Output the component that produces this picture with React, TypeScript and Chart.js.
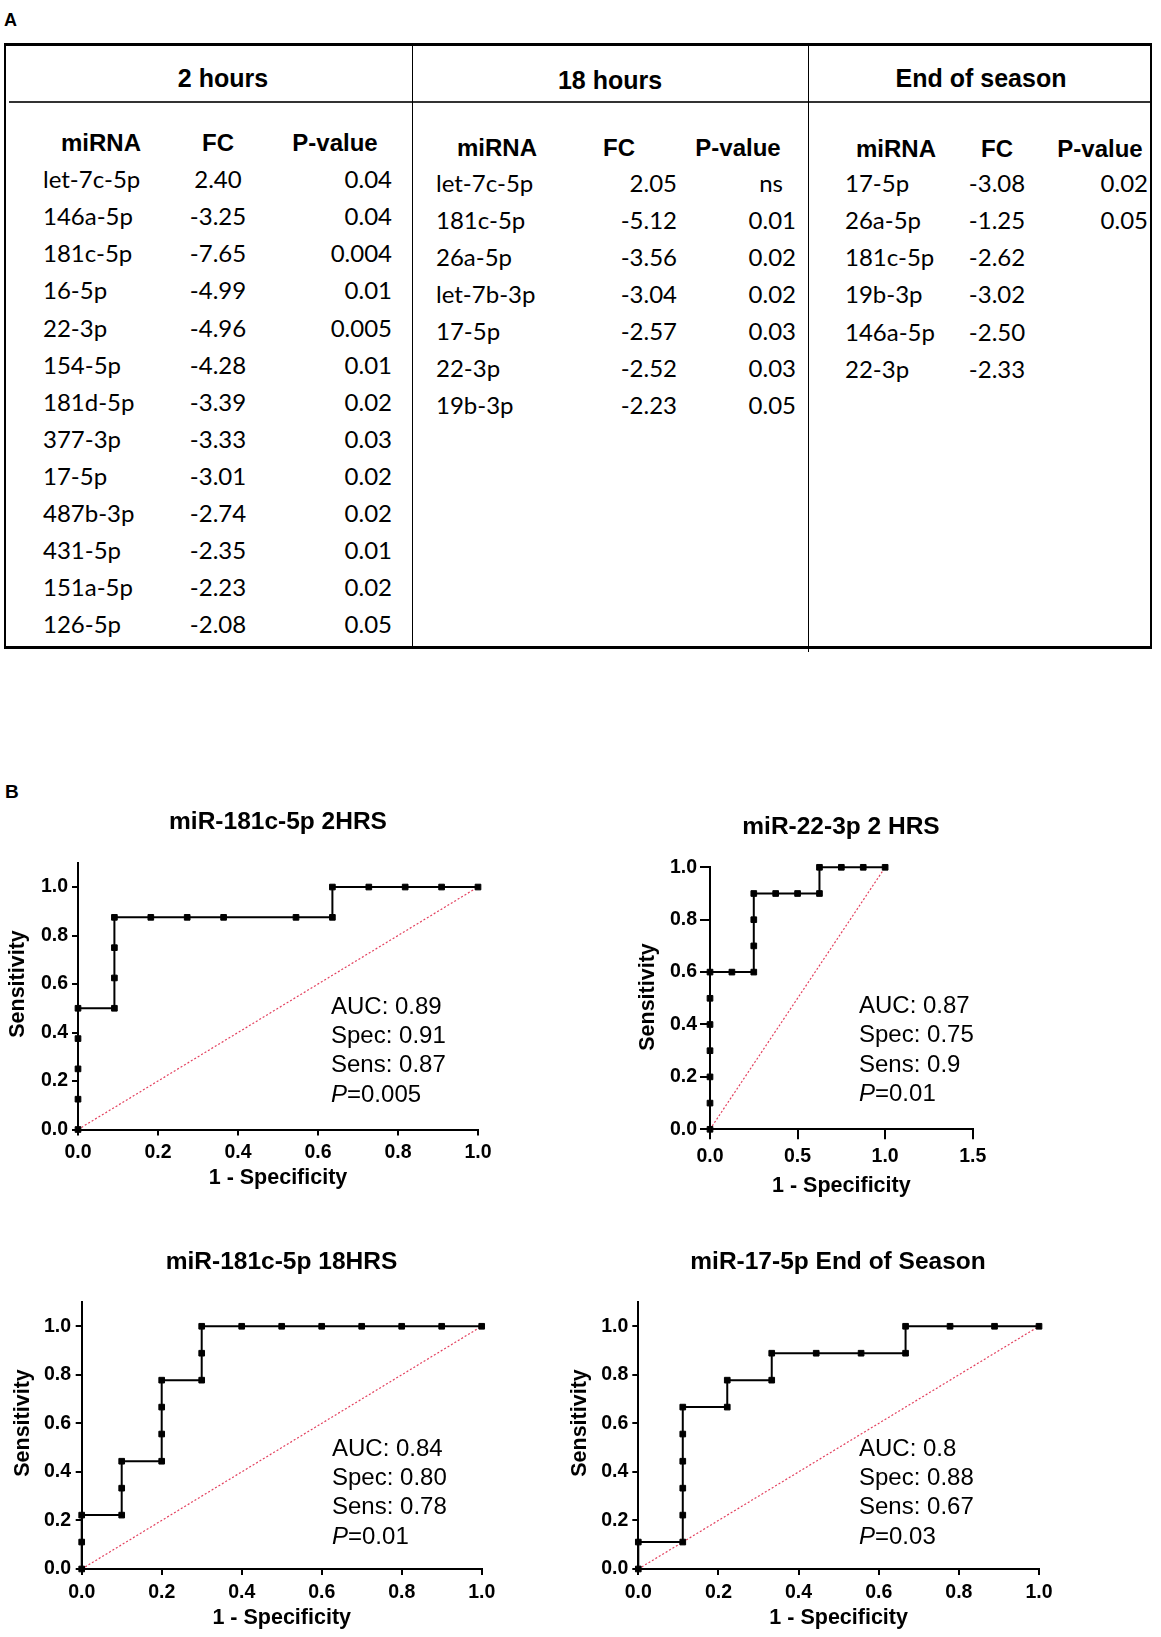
import React, { useEffect, useRef } from "react";
import { Chart, registerables } from "chart.js";

Chart.register(...registerables);

const ARIAL = '"Liberation Sans", Arial, Helvetica, sans-serif';
const BODY = 'Lato, "Open Sans", "Noto Sans", sans-serif';

// ---------------- Panel A: table data ----------------
const sectionTitles = ["2 hours", "18 hours", "End of season"];
const columnHeaders = ["miRNA", "FC", "P-value"];

const mirna2h = ["let-7c-5p", "146a-5p", "181c-5p", "16-5p", "22-3p", "154-5p", "181d-5p", "377-3p", "17-5p", "487b-3p", "431-5p", "151a-5p", "126-5p"];
const fc2h = [2.40, -3.25, -7.65, -4.99, -4.96, -4.28, -3.39, -3.33, -3.01, -2.74, -2.35, -2.23, -2.08];
const p2h = ["0.04", "0.04", "0.004", "0.01", "0.005", "0.01", "0.02", "0.03", "0.02", "0.02", "0.01", "0.02", "0.05"];

const mirna18h = ["let-7c-5p", "181c-5p", "26a-5p", "let-7b-3p", "17-5p", "22-3p", "19b-3p"];
const fc18h = [2.05, -5.12, -3.56, -3.04, -2.57, -2.52, -2.23];
const p18h = ["ns", "0.01", "0.02", "0.02", "0.03", "0.03", "0.05"];

const mirnaEos = ["17-5p", "26a-5p", "181c-5p", "19b-3p", "146a-5p", "22-3p"];
const fcEos = [-3.08, -1.25, -2.62, -3.02, -2.50, -2.33];
const pEos = ["0.02", "0.05", "", "", "", ""];

// ---------------- Panel B: ROC data ----------------
const xTicksUnit = [0, 0.2, 0.4, 0.6, 0.8, 1.0];
const xTicksWide = [0, 0.5, 1.0, 1.5];
const yTicks = [0, 0.2, 0.4, 0.6, 0.8, 1.0];
const chanceX = [0, 1];
const chanceY = [0, 1];

const roc181c2hX = [0, 0, 0, 0, 0, 0.091, 0.091, 0.091, 0.091, 0.182, 0.273, 0.364, 0.545, 0.636, 0.636, 0.727, 0.818, 0.909, 1.0];
const roc181c2hY = [0, 0.125, 0.25, 0.375, 0.5, 0.5, 0.625, 0.75, 0.875, 0.875, 0.875, 0.875, 0.875, 0.875, 1.0, 1.0, 1.0, 1.0, 1.0];
const stats181c2h = ["AUC: 0.89", "Spec: 0.91", "Sens: 0.87"];
const pval181c2h = "0.005";

const roc22_2hX = [0, 0, 0, 0, 0, 0, 0, 0.125, 0.25, 0.25, 0.25, 0.25, 0.375, 0.5, 0.625, 0.625, 0.75, 0.875, 1.0];
const roc22_2hY = [0, 0.1, 0.2, 0.3, 0.4, 0.5, 0.6, 0.6, 0.6, 0.7, 0.8, 0.9, 0.9, 0.9, 0.9, 1.0, 1.0, 1.0, 1.0];
const stats22_2h = ["AUC: 0.87", "Spec: 0.75", "Sens: 0.9"];
const pval22_2h = "0.01";

const roc181c18hX = [0, 0, 0, 0.1, 0.1, 0.1, 0.2, 0.2, 0.2, 0.2, 0.3, 0.3, 0.3, 0.4, 0.5, 0.6, 0.7, 0.8, 0.9, 1.0];
const roc181c18hY = [0, 0.111, 0.222, 0.222, 0.333, 0.444, 0.444, 0.556, 0.667, 0.778, 0.778, 0.889, 1.0, 1.0, 1.0, 1.0, 1.0, 1.0, 1.0, 1.0];
const stats181c18h = ["AUC: 0.84", "Spec: 0.80", "Sens: 0.78"];
const pval181c18h = "0.01";

const roc17EosX = [0, 0, 0.111, 0.111, 0.111, 0.111, 0.111, 0.111, 0.222, 0.222, 0.333, 0.333, 0.444, 0.556, 0.667, 0.667, 0.778, 0.889, 1.0];
const roc17EosY = [0, 0.111, 0.111, 0.222, 0.333, 0.444, 0.556, 0.667, 0.667, 0.778, 0.778, 0.889, 0.889, 0.889, 0.889, 1.0, 1.0, 1.0, 1.0];
const stats17Eos = ["AUC: 0.8", "Spec: 0.88", "Sens: 0.67"];
const pval17Eos = "0.03";

// ---------------- layout ----------------
const ROW_STEP = 37.06;
const sectionLayouts = [
  { names: mirna2h, fc: fc2h, p: p2h, titleX: 223, titleY: 78, headY: 143, headX: [101, 218, 335], rowY: 179.3, nameX: 43, fcX: 218, fcAlign: "center", pX: 392 },
  { names: mirna18h, fc: fc18h, p: p18h, titleX: 610, titleY: 80, headY: 148, headX: [497, 619, 738], rowY: 183, nameX: 436, fcX: 677, fcAlign: "right", pX: 796 },
  { names: mirnaEos, fc: fcEos, p: pEos, titleX: 981, titleY: 78, headY: 148.5, headX: [896, 997, 1100], rowY: 183.3, nameX: 845, fcX: 997, fcAlign: "center", pX: 1148 },
];

type Align = "left" | "center" | "right";

function Txt(props: { x: number; y: number; text: string; align?: Align; size: number; weight?: number | string; family: string }) {
  const { x, y, text, align = "left", size, weight = 400, family } = props;
  const tx = align === "left" ? "0" : align === "center" ? "-50%" : "-100%";
  return (
    <div
      style={{
        position: "absolute",
        left: x,
        top: y,
        transform: `translate(${tx}, -50%)`,
        whiteSpace: "nowrap",
        lineHeight: 1,
        fontSize: size,
        fontWeight: weight as any,
        fontFamily: family,
        color: "#000",
      }}
    >
      {text}
    </div>
  );
}

function Line(props: { x: number; y: number; w: number; h: number; color?: string }) {
  return <div style={{ position: "absolute", left: props.x, top: props.y, width: props.w, height: props.h, background: props.color || "#000" }} />;
}

const TITLE_SIZE = 24.5;
const AXIS_TITLE_SIZE = 21.5;
const TICK_SIZE = 19.5;
const STAT_SIZE = 24;

type Panel = {
  title: string; xs: number[]; ys: number[]; xMax: number; yMax: number; xTicks: number[];
  stats: string[]; pval: string;
  left: number; top: number; w: number; h: number;
  area: { left: number; right: number; top: number; bottom: number };
  titleY: number; yTitleX: number; yTitleY: number; xTitleY: number; tickLen: number; xTickPad: number; yTickPad: number;
  statX: number; statY: number; statDy: number;
};

const panels: Panel[] = [
  { title: "miR-181c-5p 2HRS", xs: roc181c2hX, ys: roc181c2hY, xMax: 1, yMax: 1.1, xTicks: xTicksUnit, stats: stats181c2h, pval: pval181c2h,
    left: 0, top: 780, w: 556, h: 415, area: { left: 78, right: 478, top: 82.8, bottom: 349.5 },
    titleY: 42, yTitleX: 18, yTitleY: 204, xTitleY: 398, tickLen: 6, xTickPad: 5, yTickPad: 4, statX: 331, statY: 227, statDy: 29.4 },
  { title: "miR-22-3p 2 HRS", xs: roc22_2hX, ys: roc22_2hY, xMax: 1.5, yMax: 1.0, xTicks: xTicksWide, stats: stats22_2h, pval: pval22_2h,
    left: 600, top: 780, w: 482, h: 423, area: { left: 110, right: 372.7, top: 87.3, bottom: 349.3 },
    titleY: 47, yTitleX: 48, yTitleY: 217, xTitleY: 406, tickLen: 10, xTickPad: 5.3, yTickPad: 3, statX: 259, statY: 226, statDy: 29.6 },
  { title: "miR-181c-5p 18HRS", xs: roc181c18hX, ys: roc181c18hY, xMax: 1, yMax: 1.1, xTicks: xTicksUnit, stats: stats181c18h, pval: pval181c18h,
    left: 0, top: 1220, w: 563, h: 415, area: { left: 81.7, right: 481.7, top: 82, bottom: 349 },
    titleY: 42, yTitleX: 23, yTitleY: 203, xTitleY: 398, tickLen: 6, xTickPad: 5.6, yTickPad: 4.7, statX: 332, statY: 229, statDy: 29.4 },
  { title: "miR-17-5p End of Season", xs: roc17EosX, ys: roc17EosY, xMax: 1, yMax: 1.1, xTicks: xTicksUnit, stats: stats17Eos, pval: pval17Eos,
    left: 560, top: 1220, w: 556, h: 415, area: { left: 78.3, right: 479, top: 82, bottom: 349 },
    titleY: 42, yTitleX: 20, yTitleY: 203, xTitleY: 398, tickLen: 6, xTickPad: 5.6, yTickPad: 4, statX: 299, statY: 229, statDy: 29.4 },
];

function makeTextPlugin(p: Panel) {
  return {
    id: "rocText",
    afterDatasetsDraw(chart: any) {
      const ctx = chart.ctx as CanvasRenderingContext2D;
      ctx.save();
      ctx.fillStyle = "#000";
      ctx.textAlign = "left";
      ctx.textBaseline = "middle";
      ctx.font = `${STAT_SIZE}px ${ARIAL}`;
      p.stats.forEach((t, i) => ctx.fillText(t, p.statX, p.statY + i * p.statDy));
      const py = p.statY + p.stats.length * p.statDy;
      ctx.font = `italic ${STAT_SIZE}px ${ARIAL}`;
      ctx.fillText("P", p.statX, py);
      const w = ctx.measureText("P").width;
      ctx.font = `${STAT_SIZE}px ${ARIAL}`;
      ctx.fillText("=" + p.pval, p.statX + w, py);
      // y-axis title
      ctx.translate(p.yTitleX, p.yTitleY);
      ctx.rotate(-Math.PI / 2);
      ctx.textAlign = "center";
      ctx.font = `bold ${AXIS_TITLE_SIZE}px ${ARIAL}`;
      ctx.fillText("Sensitivity", 0, 0);
      ctx.restore();
    },
  };
}

function buildConfig(p: Panel): any {
  const tlh = TITLE_SIZE * 1.2;
  const alh = AXIS_TITLE_SIZE * 1.2;
  const tickFont = { family: ARIAL, size: TICK_SIZE, weight: "bold" };
  const axisTitleFont = { family: ARIAL, size: AXIS_TITLE_SIZE, weight: "bold" };
  return {
    type: "scatter",
    data: {
      datasets: [
        {
          data: p.xs.map((x, i) => ({ x, y: p.ys[i] })),
          showLine: true,
          borderColor: "#000",
          borderWidth: 2,
          pointStyle: "rect",
          pointRadius: 4,
          pointBackgroundColor: "#000",
          pointBorderColor: "#000",
          pointBorderWidth: 1,
          clip: false,
          order: 0,
        },
        {
          data: chanceX.map((x, i) => ({ x, y: chanceY[i] })),
          showLine: true,
          borderColor: "#e3405e",
          borderWidth: 1.2,
          borderDash: [2, 2],
          pointRadius: 0,
          clip: false,
          order: 1,
        },
      ],
    },
    options: {
      animation: false,
      responsive: false,
      maintainAspectRatio: false,
      devicePixelRatio: 1,
      events: [],
      layout: { padding: 0 },
      plugins: {
        legend: { display: false },
        tooltip: { enabled: false },
        title: {
          display: true,
          text: p.title,
          color: "#000",
          font: { family: ARIAL, size: TITLE_SIZE, weight: "bold" },
          padding: { top: p.titleY - tlh / 2, bottom: p.area.top - p.titleY - tlh / 2 },
        },
      },
      scales: {
        x: {
          type: "linear",
          position: "bottom",
          min: 0,
          max: p.xMax,
          afterBuildTicks: (s: any) => { s.ticks = p.xTicks.map((v) => ({ value: v })); },
          afterFit: (s: any) => { s.height = p.h - p.area.bottom; },
          border: { display: true, color: "#000", width: 2 },
          grid: { display: true, drawOnChartArea: false, drawTicks: true, tickLength: p.tickLen, color: "#000", lineWidth: 2 },
          ticks: { color: "#000", padding: p.xTickPad, font: tickFont, maxRotation: 0, autoSkip: false, callback: (v: any) => Number(v).toFixed(1) },
          title: { display: true, text: "1 - Specificity", color: "#000", font: axisTitleFont, padding: { top: 0, bottom: p.h - p.xTitleY - alh / 2 } },
        },
        y: {
          type: "linear",
          position: "left",
          min: 0,
          max: p.yMax,
          afterBuildTicks: (s: any) => { s.ticks = yTicks.map((v) => ({ value: v })); },
          afterFit: (s: any) => { s.width = p.area.left; },
          border: { display: true, color: "#000", width: 2 },
          grid: { display: true, drawOnChartArea: false, drawTicks: true, tickLength: p.tickLen, color: "#000", lineWidth: 2 },
          ticks: { color: "#000", padding: p.yTickPad, font: tickFont, callback: (v: any) => Number(v).toFixed(1) },
          title: { display: false, text: "Sensitivity" },
        },
        spacer: {
          type: "linear",
          position: "right",
          display: true,
          grid: { display: false },
          border: { display: false },
          ticks: { display: false },
          afterFit: (s: any) => { s.width = p.w - p.area.right; },
        },
      },
    },
    plugins: [makeTextPlugin(p)],
  };
}

function RocChart({ panel }: { panel: Panel }) {
  const ref = useRef<HTMLCanvasElement | null>(null);
  useEffect(() => {
    const c = ref.current;
    if (!c) return;
    const chart = new Chart(c, buildConfig(panel));
    return () => chart.destroy();
  }, [panel]);
  return (
    <canvas
      ref={ref}
      width={panel.w}
      height={panel.h}
      style={{ position: "absolute", left: panel.left, top: panel.top, width: panel.w, height: panel.h }}
    />
  );
}

function TableSection({ idx }: { idx: number }) {
  const L = sectionLayouts[idx];
  const items: any[] = [];
  items.push(<Txt key="t" x={L.titleX} y={L.titleY} text={sectionTitles[idx]} align="center" size={25} weight={700} family={ARIAL} />);
  columnHeaders.forEach((h, i) =>
    items.push(<Txt key={"h" + i} x={L.headX[i]} y={L.headY} text={h} align="center" size={24} weight={700} family={ARIAL} />)
  );
  L.names.forEach((n, r) => {
    const y = L.rowY + r * ROW_STEP;
    items.push(<Txt key={"n" + r} x={L.nameX} y={y} text={n} align="left" size={24} family={BODY} />);
    items.push(<Txt key={"f" + r} x={L.fcX} y={y} text={L.fc[r].toFixed(2)} align={L.fcAlign as Align} size={24} family={BODY} />);
    const pv = L.p[r];
    if (pv) {
      const px = pv === "ns" ? L.pX - 13 : L.pX;
      items.push(<Txt key={"p" + r} x={px} y={y} text={pv} align="right" size={24} family={BODY} />);
    }
  });
  return <>{items}</>;
}

export default function App() {
  return (
    <div style={{ position: "absolute", left: 0, top: 0, width: 1161, height: 1637, background: "#fff", overflow: "hidden" }}>
      <Txt x={4} y={19.5} text="A" size={18} weight={700} family={ARIAL} />
      <div style={{ position: "absolute", left: 4, top: 43, width: 1148, height: 606, boxSizing: "border-box", borderTop: "3px solid #000", borderBottom: "3px solid #000", borderLeft: "2px solid #000", borderRight: "2.5px solid #000" }} />
      <Line x={412} y={45} w={1.2} h={602} />
      <Line x={807.5} y={45} w={1.2} h={607} />
      <Line x={9} y={101} w={403} h={1.5} color="#333" />
      <Line x={413} y={101} w={395} h={1.5} color="#333" />
      <Line x={808.5} y={101} w={341} h={1.5} color="#333" />
      <TableSection idx={0} />
      <TableSection idx={1} />
      <TableSection idx={2} />

      <Txt x={5} y={790.5} text="B" size={19} weight={700} family={ARIAL} />
      {panels.map((p, i) => (
        <RocChart key={i} panel={p} />
      ))}
    </div>
  );
}
